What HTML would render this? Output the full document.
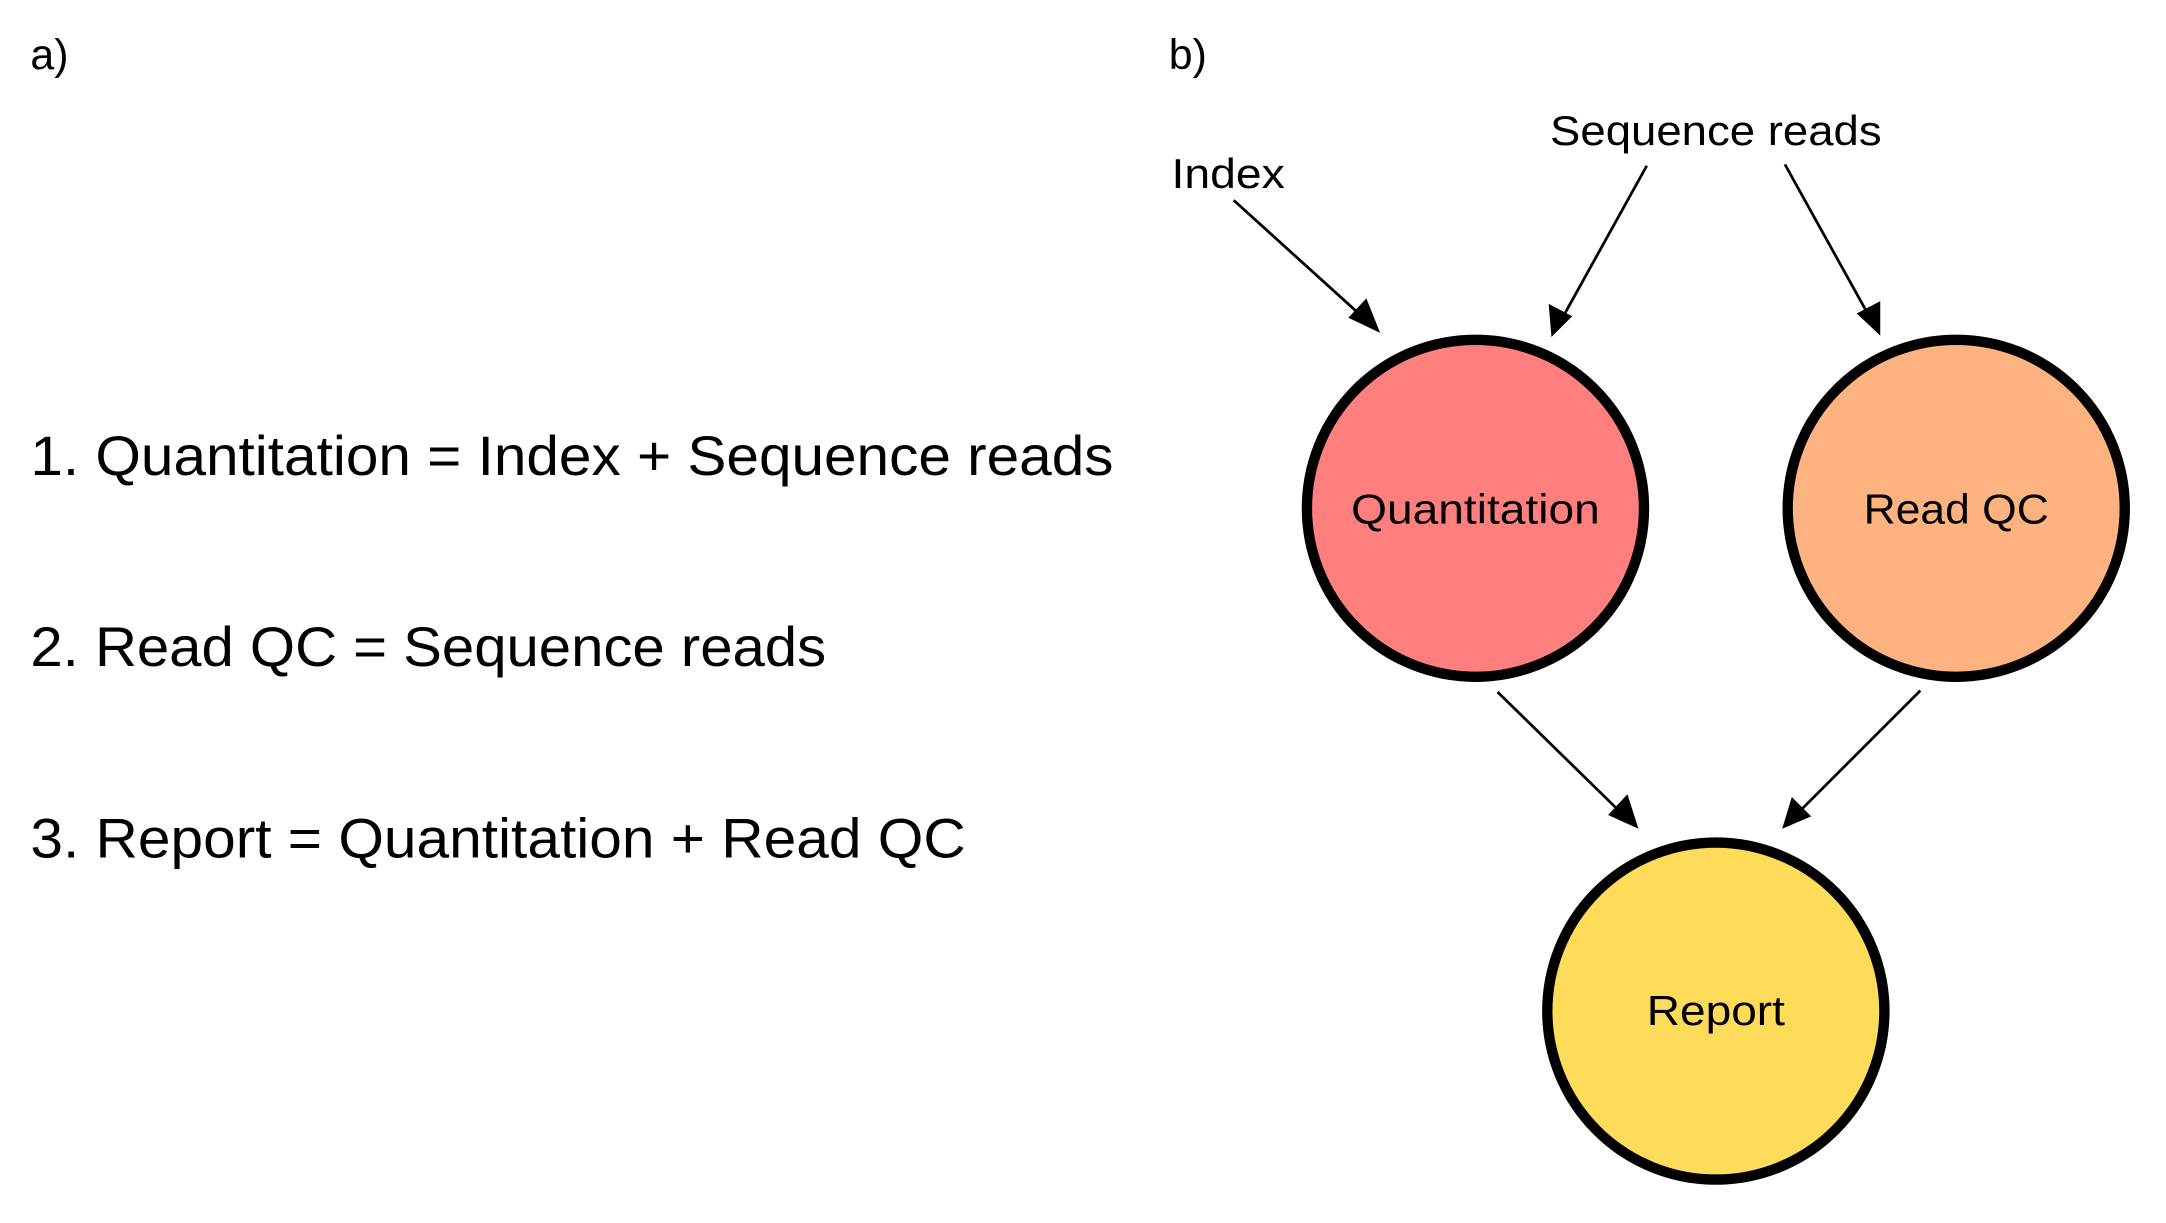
<!DOCTYPE html>
<html><head><meta charset="utf-8"><style>
html,body{margin:0;padding:0;background:#fff;}
svg{display:block;}
text{font-family:"Liberation Sans",Arial,sans-serif;fill:#000;}
</style></head><body>
<svg width="2166" height="1223" viewBox="0 0 1560 881" preserveAspectRatio="none" xmlns="http://www.w3.org/2000/svg">
<rect width="1560" height="881" fill="#fff"/>
<g transform="scale(0.995)">
<text x="22" y="50" font-size="31">a)</text>
<text x="22" y="344" font-size="40" textLength="784" lengthAdjust="spacingAndGlyphs">1. Quantitation = Index + Sequence reads</text>
<text x="22" y="482" font-size="40" textLength="576" lengthAdjust="spacingAndGlyphs">2. Read QC = Sequence reads</text>
<text x="22" y="621" font-size="40" textLength="677" lengthAdjust="spacingAndGlyphs">3. Report = Quantitation + Read QC</text>

<text x="846" y="50" font-size="31">b)</text>
<text x="848" y="136" font-size="30" textLength="82" lengthAdjust="spacingAndGlyphs">Index</text>
<text x="1122" y="105" font-size="30" textLength="240" lengthAdjust="spacingAndGlyphs">Sequence reads</text>

<g stroke="#000" stroke-width="2" fill="none">
<line x1="893" y1="145" x2="988" y2="231"/>
<line x1="1192" y1="120" x2="1131" y2="230"/>
<line x1="1292" y1="119" x2="1353" y2="229"/>
<line x1="1084" y1="501" x2="1175" y2="590"/>
<line x1="1390" y1="500" x2="1301" y2="589"/>
</g>
<g fill="#000">
<polygon points="999,241 976,230 989,216"/>
<polygon points="1123,244 1121,220 1138,229"/>
<polygon points="1361,243 1344,227 1361,218"/>
<polygon points="1186,600 1164,590 1178,575"/>
<polygon points="1290,600 1297,577 1311,591"/>
</g>

<circle cx="1068" cy="368" r="122" fill="#fe7f7e" stroke="#000" stroke-width="7.5"/>
<circle cx="1416" cy="368" r="122" fill="#feb27f" stroke="#000" stroke-width="7.5"/>
<circle cx="1242" cy="732" r="122" fill="#fedb58" stroke="#000" stroke-width="7.5"/>

<text x="1068" y="379" font-size="30" text-anchor="middle" textLength="180" lengthAdjust="spacingAndGlyphs">Quantitation</text>
<text x="1416" y="379" font-size="30" text-anchor="middle" textLength="134" lengthAdjust="spacingAndGlyphs">Read QC</text>
<text x="1242" y="742" font-size="30" text-anchor="middle" textLength="100" lengthAdjust="spacingAndGlyphs">Report</text>
</g>
</svg>
</body></html>
